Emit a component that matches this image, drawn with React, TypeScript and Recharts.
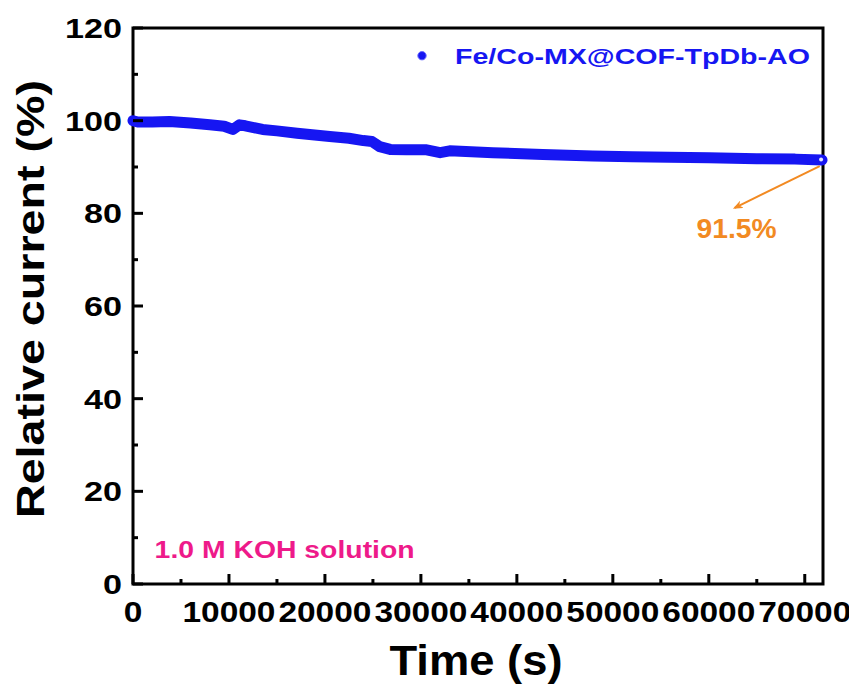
import React from 'react'
import {
  LineChart, Line, XAxis, YAxis, Legend, ReferenceArea, ReferenceDot, ReferenceLine,
} from 'recharts'

// chronoamperometry trace, time in s / relative current in %
const timeS = [
  0, 500, 2000, 3800, 6000, 8000, 9500, 10400, 11100, 11700, 13500, 15000,
  17100, 20500, 22500, 24000, 24900, 25700, 26800, 28500, 30600, 32000, 33000,
  37500, 42700, 47900, 52000, 55900, 60000, 65000, 69000, 71800,
]
const relCurrent = [
  100.0, 99.7, 99.7, 99.8, 99.5, 99.1, 98.8, 98.1, 99.1, 98.9, 98.1, 97.8,
  97.3, 96.6, 96.2, 95.7, 95.5, 94.4, 93.8, 93.7, 93.7, 93.1, 93.5,
  93.1, 92.7, 92.4, 92.2, 92.1, 92.0, 91.8, 91.7, 91.5,
]
const xTicks = [0, 5000, 10000, 15000, 20000, 25000, 30000, 35000, 40000, 45000, 50000, 55000, 60000, 65000, 70000]
const yTicks = [0, 10, 20, 30, 40, 50, 60, 70, 80, 90, 100, 110, 120]
const seriesName = 'Fe/Co-MX@COF-TpDb-AO'
const retention = 91.5

const data = timeS.map((t, i) => ({ t, current: relCurrent[i] }))

const FONT = '"Liberation Sans", Arial, sans-serif'
const BLUE = '#1616f2'
const ORANGE = '#f28a22'
const PINK = '#ee1a8a'

function XTick({ x, y, payload }: any) {
  const major = payload.value % 10000 === 0
  const label = String(payload.value)
  return (
    <g>
      <line x1={x} y1={y} x2={x} y2={y - (major ? 10 : 5)} stroke="#000" strokeWidth={3} />
      {major && (
        <text x={x} y={y + 38} textAnchor="middle" fontFamily={FONT} fontWeight="bold"
          fontSize={29} fill="#000" textLength={label.length * 18.6} lengthAdjust="spacingAndGlyphs">
          {label}
        </text>
      )}
    </g>
  )
}

function YTick({ x, y, payload }: any) {
  const major = payload.value % 20 === 0
  const label = String(payload.value)
  return (
    <g>
      <line x1={x} y1={y} x2={x + (major ? 10 : 5)} y2={y} stroke="#000" strokeWidth={3} />
      {major && (
        <text x={x - 11} y={y + 10} textAnchor="end" fontFamily={FONT} fontWeight="bold"
          fontSize={28} fill="#000" textLength={label.length * 19} lengthAdjust="spacingAndGlyphs">
          {label}
        </text>
      )}
    </g>
  )
}

function YLabel({ viewBox }: any) {
  const cx = viewBox.x + 36
  const cy = viewBox.y + viewBox.height / 2 - 7
  return (
    <text x={cx} y={cy} transform={`rotate(-90, ${cx}, ${cy})`} textAnchor="middle"
      fontFamily={FONT} fontWeight="bold" fontSize={39} fill="#000"
      textLength={438} lengthAdjust="spacingAndGlyphs">
      Relative current (%)
    </text>
  )
}

function XLabel({ viewBox }: any) {
  const cx = viewBox.x + viewBox.width / 2 - 2
  return (
    <text x={cx} y={viewBox.y + 91} textAnchor="middle" fontFamily={FONT} fontWeight="bold"
      fontSize={42} fill="#000" textLength={173} lengthAdjust="spacingAndGlyphs">
      Time (s)
    </text>
  )
}

function LegendBox() {
  return (
    <svg width={420} height={40} style={{ display: 'block' }}>
      <circle cx={6} cy={17.7} r={4.2} fill={BLUE} stroke="#6a6aff" strokeWidth={1} />
      <text x={39} y={26.3} fontFamily={FONT} fontWeight="bold" fontSize={22.5} fill={BLUE}
        textLength={355} lengthAdjust="spacingAndGlyphs">
        {seriesName}
      </text>
    </svg>
  )
}

function Arrow(props: any) {
  const { x1, y1, x2, y2 } = props
  return (
    <g>
      <defs>
        <marker id="arrowHead" markerWidth="10" markerHeight="8" refX="8" refY="4" orient="auto" markerUnits="userSpaceOnUse">
          <path d="M0,0 L10,4 L0,8 L3,4 Z" fill={ORANGE} />
        </marker>
      </defs>
      <line x1={x1} y1={y1} x2={x2} y2={y2} stroke={ORANGE} strokeWidth={2} markerEnd="url(#arrowHead)" />
    </g>
  )
}

export default function App() {
  return (
    <LineChart width={849} height={682} data={data} margin={{ top: 20, right: 34, left: 0, bottom: 0 }}>
      <XAxis dataKey="t" type="number" domain={[0, 71900]} ticks={xTicks} interval={0}
        height={106} tickSize={0} tickMargin={0} axisLine={false} tickLine={false} tick={<XTick />}
        label={<XLabel />} />
      <YAxis type="number" domain={[0, 120]} ticks={yTicks} interval={0} width={125}
        tickSize={0} tickMargin={0} axisLine={false} tickLine={false} tick={<YTick />}
        label={<YLabel />} />
      <ReferenceArea x1={0} x2={71900} y1={0} y2={120} fill="none" stroke="#000" strokeWidth={3} />
      <Legend layout="vertical" align="center" verticalAlign="middle"
        wrapperStyle={{ position: 'absolute', left: 408, top: 30, width: 420, height: 40 }}
        content={() => <LegendBox />} />
      <Line dataKey="current" name={seriesName} type="linear" stroke={BLUE} strokeWidth={11}
        strokeLinejoin="round" strokeLinecap="round" dot={false} isAnimationActive={false} />
      <ReferenceDot x={71700} y={retention + 0.1} r={2} fill="#dfe4ff" stroke="none" />
      <ReferenceLine segment={[{ x: 71560, y: 90.2 }, { x: 62700, y: 81.2 }]} shape={<Arrow />} />
      <ReferenceDot x={62900} y={76.8} r={0} shape={(p: any) => (
        <text x={p.cx} y={p.cy + 10} textAnchor="middle" fontFamily={FONT} fontWeight="bold"
          fontSize={28} fill={ORANGE} textLength={80} lengthAdjust="spacingAndGlyphs">
          {`${retention}%`}
        </text>
      )} />
      <ReferenceDot x={15800} y={7.55} r={0} shape={(p: any) => (
        <text x={p.cx} y={p.cy + 9} textAnchor="middle" fontFamily={FONT} fontWeight="bold"
          fontSize={24} fill={PINK} textLength={260} lengthAdjust="spacingAndGlyphs">
          1.0 M KOH solution
        </text>
      )} />
    </LineChart>
  )
}
